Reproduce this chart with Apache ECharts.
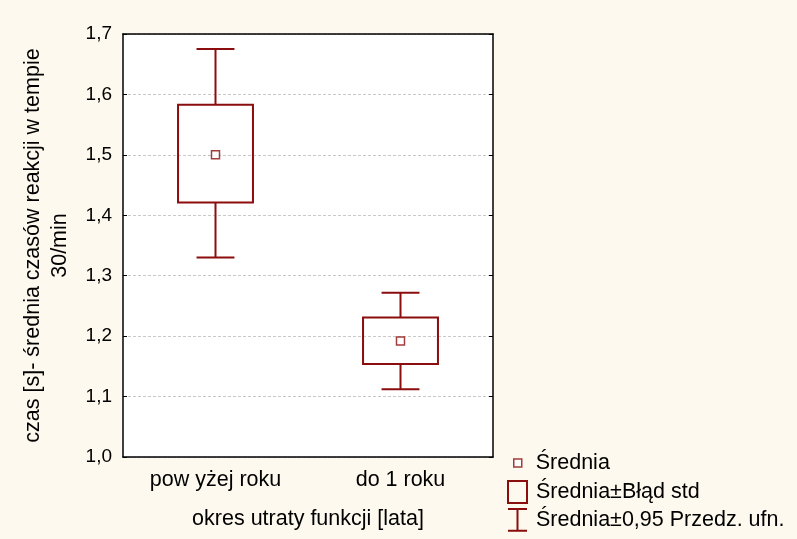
<!DOCTYPE html>
<html lang="pl">
<head>
    <meta charset="UTF-8">
    <title>Średnia czasów reakcji</title>
    <script src="https://cdn.jsdelivr.net/npm/echarts@6/dist/echarts.min.js"></script>
</head>
<style>
    *{
        margin: 0;
        padding: 0;
    }
    html , body{
        overflow: hidden;
        height: 100%;
        width: 100%;
        background-color: #fdf9ee;
    }
    .contain{
        width: 797px;
        height: 539px;
    }
</style>
<body>
<div class="contain"></div>
<script>
    // dane
    let categories = ['pow yżej roku', 'do 1 roku'];
    let means = [1.500, 1.192];
    let seLow = [1.421, 1.154];
    let seHigh = [1.583, 1.231];
    let ciLow = [1.330, 1.112];
    let ciHigh = [1.675, 1.272];
    let yTicks = [1.0, 1.1, 1.2, 1.3, 1.4, 1.5, 1.6, 1.7];

    let red = '#8b0d0d';
    let font = '"Liberation Sans", Arial, sans-serif';
    let textSize = 21.5;

    let chart = echarts.init(document.querySelector('.contain'));

    let boxData = categories.map((c, i) => [i, seLow[i], seHigh[i]]);
    let whiskerData = categories.map((c, i) => [i, ciLow[i], seLow[i], seHigh[i], ciHigh[i]]);
    let meanData = categories.map((c, i) => [i, means[i]]);

    let legendText = pad => ({fontFamily: font, fontSize: textSize, lineHeight: 22, color: '#000', padding: [0, 0, 0, pad]});

    let option = {
        backgroundColor: '#fdf9ee',
        animation: false,
        grid: {
            left: 123,
            right: 304,
            top: 34,
            bottom: 82,
            show: true,
            backgroundColor: '#ffffff',
            borderWidth: 0
        },
        legend: [
            {
                left: 513, top: 452, padding: 0, itemWidth: 8, itemHeight: 8,
                selectedMode: false,
                textStyle: legendText(9),
                data: [{name: 'Średnia', icon: 'rect', itemStyle: {color: '#fff', borderColor: red, borderWidth: 1.5}}]
            },
            {
                left: 507, top: 480, padding: 0, itemWidth: 19, itemHeight: 22,
                selectedMode: false,
                textStyle: legendText(4),
                data: [{name: 'Średnia±Błąd std', icon: 'rect', itemStyle: {color: 'rgba(0,0,0,0)', borderColor: red, borderWidth: 2}}]
            },
            {
                left: 507, top: 508, padding: 0, itemWidth: 19, itemHeight: 23,
                selectedMode: false,
                textStyle: legendText(4),
                data: [{name: 'Średnia±0,95 Przedz. ufn.', icon: 'path://M0,0H20M10,0V23M0,23H20', itemStyle: {color: 'rgba(0,0,0,0)', borderColor: red, borderWidth: 2}}]
            }
        ],
        xAxis: [
            {
                type: 'category',
                data: categories,
                position: 'bottom',
                name: 'okres utraty funkcji [lata]',
                nameLocation: 'middle',
                nameGap: 51,
                nameTextStyle: {fontFamily: font, fontSize: textSize, color: '#000'},
                axisLine: {lineStyle: {color: '#000', width: 1.5}},
                axisTick: {inside: true, alignWithLabel: true, length: 4, lineStyle: {color: '#000'}},
                axisLabel: {fontFamily: font, fontSize: textSize, color: '#000', margin: 12},
                splitLine: {show: false}
            },
            {
                type: 'category',
                data: categories,
                position: 'top',
                axisLine: {lineStyle: {color: '#000', width: 1.5}},
                axisTick: {inside: true, alignWithLabel: true, length: 4, lineStyle: {color: '#000'}},
                axisLabel: {show: false},
                splitLine: {show: false}
            }
        ],
        yAxis: [
            {
                type: 'value',
                min: yTicks[0],
                max: yTicks[yTicks.length - 1],
                interval: 0.1,
                name: 'czas [s]- średnia czasów reakcji w tempie\n30/min',
                nameLocation: 'middle',
                nameGap: 49,
                nameTextStyle: {fontFamily: font, fontSize: textSize, color: '#000', lineHeight: 27},
                axisLine: {show: true, lineStyle: {color: '#000', width: 1.5}},
                axisTick: {show: true, inside: true, length: 4, lineStyle: {color: '#000'}},
                axisLabel: {
                    fontFamily: font, fontSize: 19, color: '#000', margin: 11,
                    formatter: v => v.toFixed(1).replace('.', ',')
                },
                splitLine: {show: true, lineStyle: {color: '#c8c8c8', type: [3, 2], width: 1}}
            },
            {
                type: 'value',
                min: yTicks[0],
                max: yTicks[yTicks.length - 1],
                interval: 0.1,
                position: 'right',
                axisLine: {show: true, lineStyle: {color: '#000', width: 1.5}},
                axisTick: {show: true, inside: true, length: 4, lineStyle: {color: '#000'}},
                axisLabel: {show: false},
                splitLine: {show: false}
            }
        ],
        series: [
            {
                name: 'Średnia±Błąd std',
                type: 'custom',
                data: boxData,
                z: 2,
                renderItem: function (params, api) {
                    let x = api.value(0);
                    let lo = api.coord([x, api.value(1)]);
                    let hi = api.coord([x, api.value(2)]);
                    let w = api.size([1, 0])[0] * 0.405;
                    return {
                        type: 'rect',
                        shape: {x: lo[0] - w / 2, y: hi[1], width: w, height: lo[1] - hi[1]},
                        style: {fill: 'none', stroke: red, lineWidth: 2}
                    };
                }
            },
            {
                name: 'Średnia±0,95 Przedz. ufn.',
                type: 'custom',
                data: whiskerData,
                z: 2,
                renderItem: function (params, api) {
                    let x = api.value(0);
                    let p1 = api.coord([x, api.value(1)]);
                    let p2 = api.coord([x, api.value(2)]);
                    let p3 = api.coord([x, api.value(3)]);
                    let p4 = api.coord([x, api.value(4)]);
                    let cw = api.size([1, 0])[0] * 0.205;
                    let st = {stroke: red, lineWidth: 2};
                    return {
                        type: 'group',
                        children: [
                            {type: 'line', shape: {x1: p1[0], y1: p1[1], x2: p2[0], y2: p2[1]}, style: st},
                            {type: 'line', shape: {x1: p3[0], y1: p3[1], x2: p4[0], y2: p4[1]}, style: st},
                            {type: 'line', shape: {x1: p1[0] - cw / 2, y1: p1[1], x2: p1[0] + cw / 2, y2: p1[1]}, style: st},
                            {type: 'line', shape: {x1: p4[0] - cw / 2, y1: p4[1], x2: p4[0] + cw / 2, y2: p4[1]}, style: st}
                        ]
                    };
                }
            },
            {
                name: 'Średnia',
                type: 'scatter',
                data: meanData,
                symbol: 'rect',
                symbolSize: 8,
                z: 3,
                itemStyle: {color: '#fff', borderColor: red, borderWidth: 1.5}
            }
        ]
    };

    chart.setOption(option);
</script>
</body>
</html>
